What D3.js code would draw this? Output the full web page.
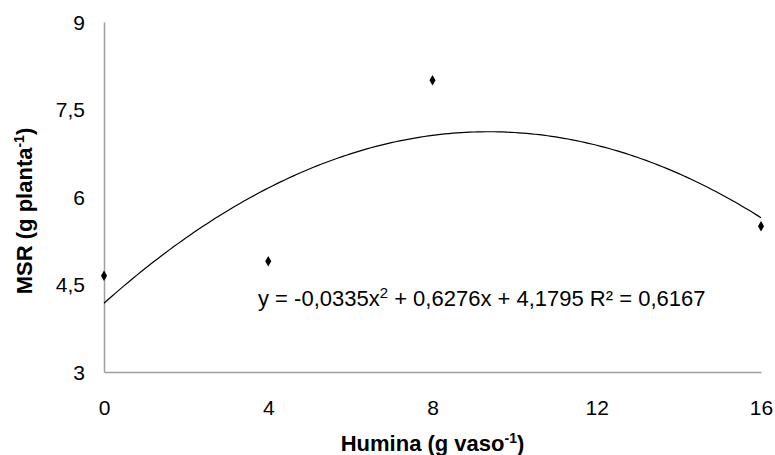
<!DOCTYPE html>
<html>
<head>
<meta charset="utf-8">
<script src="https://cdn.jsdelivr.net/npm/d3@7"></script>
<style>
  body { margin: 0; background: #fff; }
  text { font-family: "Liberation Sans", Arial, sans-serif; fill: #000; }
</style>
</head>
<body>
<div id="chart"></div>
<script>
// observed points
var doses = [0, 4, 8, 16];
var msr = [4.65, 4.9, 8.0, 5.5];
// quadratic trend coefficients [a, b, c] for y = a x^2 + b x + c
var coef = [-0.0335, 0.6276, 4.1795];
var xTicks = [0, 4, 8, 12, 16];
var yTicks = [3, 4.5, 6, 7.5, 9];

var w = 775, h = 455;
var m = {left: 104, right: 14, top: 22, bottom: 83};

var svg = d3.select("#chart").append("svg")
  .attr("width", w).attr("height", h);

var x = d3.scaleLinear().domain([0, 16]).range([m.left, w - m.right]);
var y = d3.scaleLinear().domain([3, 9]).range([h - m.bottom, m.top]);
var fmt = function(d) { return String(d).replace(".", ","); };

// axes
var xAxis = svg.append("g")
  .attr("transform", "translate(0," + (h - m.bottom) + ")")
  .call(d3.axisBottom(x).tickValues(xTicks).tickSize(0).tickPadding(28).tickFormat(fmt));
var yAxis = svg.append("g")
  .attr("transform", "translate(" + m.left + ",0)")
  .call(d3.axisLeft(y).tickValues(yTicks).tickSize(0).tickPadding(19).tickFormat(fmt));
[xAxis, yAxis].forEach(function(a) {
  a.select(".domain").attr("stroke", "#a0a0a0").attr("stroke-width", 1.5);
  a.selectAll("text").style("font-size", "21px").attr("fill", "#000");
});
yAxis.selectAll("text").attr("dy", "0.35em");

// trend curve
var trend = d3.range(0, 16.01, 0.1).map(function(t) {
  return [t, coef[0] * t * t + coef[1] * t + coef[2]];
});
var line = d3.line()
  .x(function(d) { return x(d[0]); })
  .y(function(d) { return y(d[1]); });
svg.append("path")
  .attr("d", line(trend))
  .attr("fill", "none")
  .attr("stroke", "#000")
  .attr("stroke-width", 1.2);

// points
svg.selectAll(".pt").data(doses).enter().append("path")
  .attr("class", "pt")
  .attr("d", d3.symbol().type(d3.symbolDiamond).size(32))
  .attr("transform", function(d, i) { return "translate(" + x(d) + "," + y(msr[i]) + ")"; })
  .attr("fill", "#000");

// equation
var eq = svg.append("text")
  .attr("x", 258).attr("y", 306)
  .style("font-size", "22px");
eq.append("tspan").text("y = -0,0335x");
eq.append("tspan").attr("dy", -8).style("font-size", "15px").text("2");
eq.append("tspan").attr("dy", 8).text(" + 0,6276x + 4,1795 R² = 0,6167");

// axis titles
var xt = svg.append("text")
  .attr("x", x(8)).attr("y", 451)
  .attr("text-anchor", "middle")
  .style("font-size", "22px").style("font-weight", "bold");
xt.append("tspan").text("Humina (g vaso");
xt.append("tspan").attr("dy", -8).style("font-size", "14px").text("-1");
xt.append("tspan").attr("dy", 8).text(")");

var yt = svg.append("text")
  .attr("transform", "translate(32,211) rotate(-90)")
  .attr("text-anchor", "middle")
  .style("font-size", "22px").style("font-weight", "bold");
yt.append("tspan").text("MSR (g planta");
yt.append("tspan").attr("dy", -8).style("font-size", "14px").text("-1");
yt.append("tspan").attr("dy", 8).text(")");
</script>
</body>
</html>
